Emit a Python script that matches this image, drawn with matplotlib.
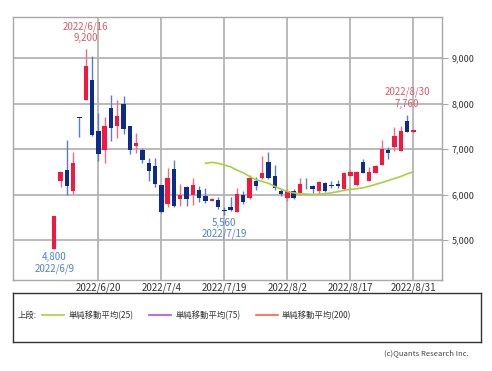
import numpy as np
import matplotlib
matplotlib.use("Agg")
import matplotlib.pyplot as plt

plt.rcParams['font.family'] = ['Noto Sans CJK JP', 'DejaVu Sans']

# daily candles, 2022/6/9 - 2022/8/31 (trading days)
dates = ["6/9", "6/10", "6/13", "6/14", "6/15", "6/16", "6/17", "6/20", "6/21", "6/22",
         "6/23", "6/24", "6/27", "6/28", "6/29", "6/30", "7/1", "7/4", "7/5", "7/6",
         "7/7", "7/8", "7/11", "7/12", "7/13", "7/14", "7/15", "7/19", "7/20", "7/21",
         "7/22", "7/25", "7/26", "7/27", "7/28", "7/29", "8/1", "8/2", "8/3", "8/4",
         "8/5", "8/8", "8/9", "8/10", "8/12", "8/15", "8/16", "8/17", "8/18", "8/19",
         "8/22", "8/23", "8/24", "8/25", "8/26", "8/29", "8/30", "8/31"]
opens = [4800, 6300, 6540, 6080, 7700, 8090, 8530, 7400, 6980, 7900,
         7500, 8000, 7500, 7074, 6985, 6706, 6620, 6213, 5794, 6560,
         5897, 6176, 5993, 6110, 5964, 5870, 5891, 5660, 5732, 5623,
         6000, 5928, 6290, 6362, 6725, 6420, 6070, 5928, 6087, 6036,
         6245, 6180, 6072, 6254, 6217, 6232, 6120, 6420, 6220, 6720,
         6300, 6484, 6653, 6980, 7055, 6960, 7630, 7385]
highs = [5530, 6500, 7200, 6940, 7700, 9200, 9050, 7800, 7700, 8190,
         8090, 8160, 7520, 7353, 7020, 6800, 6800, 6215, 6580, 6765,
         6228, 6190, 6360, 6180, 6145, 5920, 5942, 5730, 5950, 6145,
         6072, 6435, 6398, 6848, 6930, 6650, 6120, 6120, 6120, 6362,
         6362, 6220, 6290, 6275, 6290, 6330, 6500, 6540, 6510, 6785,
         6610, 6660, 7200, 7050, 7490, 7500, 7760, 7440]
lows = [4800, 6160, 6000, 6020, 7270, 8090, 7300, 6730, 6700, 7190,
        7240, 7340, 6900, 6912, 6690, 6290, 6160, 5600, 5735, 5720,
        5750, 5750, 5772, 5833, 5819, 5860, 5688, 5560, 5630, 5620,
        5804, 5913, 6109, 6350, 6350, 6100, 5960, 5855, 5905, 6000,
        6120, 6036, 6022, 6050, 6145, 6140, 6100, 6400, 6180, 6470,
        6290, 6480, 6650, 6780, 6970, 6950, 7370, 7360]
closes = [5530, 6500, 6190, 6700, 7690, 8830, 7310, 6890, 7510, 7460,
          7720, 7440, 6985, 7132, 6765, 6529, 6235, 5625, 6375, 5750,
          5993, 5897, 6206, 5928, 5855, 5906, 5732, 5640, 5652, 6014,
          5833, 6362, 6196, 6486, 6373, 6145, 6020, 6087, 5928, 6239,
          6230, 6123, 6268, 6072, 6181, 6181, 6480, 6500, 6500, 6480,
          6505, 6625, 7000, 6910, 7290, 7410, 7380, 7430]

# 25-day simple moving average, starts on the 25th day (7/13)
ma25 = [6690, 6710, 6690, 6650, 6610, 6540, 6480, 6400, 6330, 6290,
        6250, 6180, 6120, 6070, 6040, 6020, 6010, 6005, 6010, 6020,
        6040, 6065, 6095, 6115, 6130, 6150, 6185, 6225, 6265, 6310,
        6355, 6400, 6455, 6505]

tick_idx = [7, 17, 27, 37, 47, 57]
tick_labels = ["2022/6/20", "2022/7/4", "2022/7/19", "2022/8/2", "2022/8/17", "2022/8/31"]
y_ticks = [5000, 6000, 7000, 8000, 9000]

up_body, up_wick = '#f5173d', '#f56a7e'
dn_body, dn_wick = '#0b2c8c', '#5b7ccc'
red_txt, blue_txt = '#e05a64', '#4d80e6'

fig = plt.figure(figsize=(4.92, 3.71), dpi=100)
ax = fig.add_axes([0.0258, 0.2453, 0.872, 0.7097])

x = np.arange(len(dates))
ax.set_xlim(-6.6, 61.5)
ax.set_ylim(4122, 9915)

for t in y_ticks:
    ax.axhline(t, color='#b4b4b4', lw=1.3, zorder=0)
for t in tick_idx:
    ax.axvline(t, color='#b4b4b4', lw=1.3, zorder=0)

w = 0.7
for i in x:
    o, h, l, c = opens[i], highs[i], lows[i], closes[i]
    up = c >= o
    bc = up_body if up else dn_body
    wc = up_wick if up else dn_wick
    ax.vlines(i, l, h, color=wc, lw=1, zorder=2)
    lo, hi = min(o, c), max(o, c)
    if hi - lo < 15:
        hi = lo + 15
    ax.bar(i, hi - lo, bottom=lo, width=w, color=bc, lw=0, zorder=3)

ax.plot(x[24:], ma25, color='#a8d23c', lw=1.2, zorder=4)

# high / low annotations
def note(i, val, lines, color, above):
    sign = 1 if above else -1
    for k, s in enumerate(lines):
        off = sign * (11 + 11.5 * k) if above else -(8 + 11.5 * k)
        ax.annotate(s, (i, val), xytext=(0, off), textcoords='offset pixels',
                    ha='center', va='center', fontsize=7, color=color)

note(5, 9200, ["9,200", "2022/6/16"], red_txt, True)
note(56, 7760, ["7,760", "2022/8/30"], red_txt, True)
note(0, 4800, ["4,800", "2022/6/9"], blue_txt, False)
note(27, 5560, ["5,560", "2022/7/19"], blue_txt, False)

for s in ax.spines.values():
    s.set_color('#a8a8a8')
    s.set_linewidth(1)
ax.yaxis.tick_right()
ax.set_yticks(y_ticks)
ax.set_yticklabels(["{:,}".format(t) for t in y_ticks])
ax.tick_params(axis='y', length=4, color='#a8a8a8', pad=3, labelsize=6.5, labelcolor='#333333')
ax.set_xticks(tick_idx)
ax.set_xticklabels(tick_labels)
ax.tick_params(axis='x', length=0, pad=2, labelsize=7, labelcolor='#333333')

# legend box
lg = fig.add_axes([0.0258, 0.0774, 0.952, 0.132])
lg.set_xlim(0, 468)
lg.set_ylim(0, 49)
lg.set_xticks([])
lg.set_yticks([])
for s in lg.spines.values():
    s.set_color('#333333')
    s.set_linewidth(1)
ly = 27
lg.text(5, ly, "上段:", fontsize=6, va='center', color='#333333')
items = [("単純移動平均(25)", '#a8d23c', 29.5), ("単純移動平均(75)", '#b54cf0', 136.5),
         ("単純移動平均(200)", '#ff6040', 243)]
for lab, col, x0 in items:
    lg.plot([x0, x0 + 22], [ly, ly], color=col, lw=1.2)
    lg.text(x0 + 26, ly, lab, fontsize=6, va='center', color='#333333')

fig.text(468.3 / 492, 1 - 353.3 / 371, "(c)Quants Research Inc.", fontsize=5.5,
         ha='right', va='center', color='#444444')

plt.savefig('out.png', dpi=100)
